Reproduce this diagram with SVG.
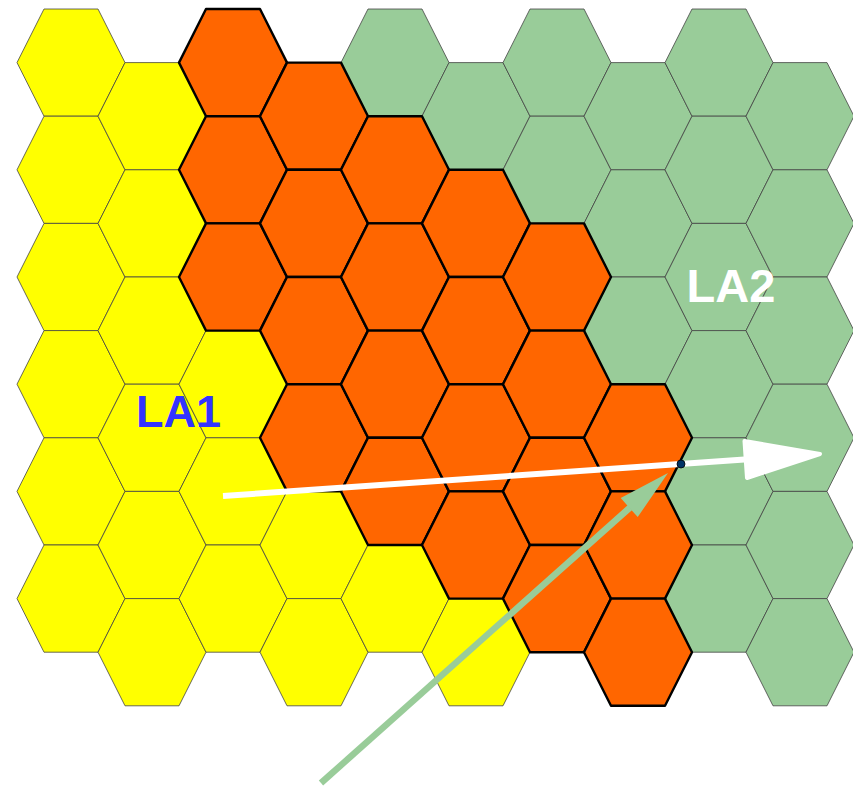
<svg xmlns="http://www.w3.org/2000/svg" xmlns:xlink="http://www.w3.org/1999/xlink" width="853" height="788" viewBox="0 0 853 788">
<style>
.y{fill:#FFFF00;stroke:#444;stroke-width:0.8}
.g{fill:#99CC99;stroke:#444;stroke-width:0.8}
.o{fill:#FF6600;stroke:#000;stroke-width:2.4;stroke-linejoin:round}
.lbl{font-family:"Liberation Sans",Arial,sans-serif;font-weight:bold;font-size:47px}
</style>
<defs>
<polygon id="hex" points="-54,0 -27,-53.6 27,-53.6 54,0 27,53.6 -27,53.6"/>
</defs>
<rect width="853" height="788" fill="#fff"/>
<g id="LA1-cells">
<use href="#hex" class="y" x="71" y="62.6"/><use href="#hex" class="y" x="71" y="169.8"/><use href="#hex" class="y" x="71" y="277"/><use href="#hex" class="y" x="71" y="384.2"/><use href="#hex" class="y" x="71" y="491.4"/><use href="#hex" class="y" x="71" y="598.6"/>
<use href="#hex" class="y" x="152" y="116.2"/><use href="#hex" class="y" x="152" y="223.4"/><use href="#hex" class="y" x="152" y="330.6"/><use href="#hex" class="y" x="152" y="437.8"/><use href="#hex" class="y" x="152" y="545"/><use href="#hex" class="y" x="152" y="652.2"/>
<use href="#hex" class="y" x="233" y="384.2"/><use href="#hex" class="y" x="233" y="491.4"/><use href="#hex" class="y" x="233" y="598.6"/>
<use href="#hex" class="y" x="314" y="545"/><use href="#hex" class="y" x="314" y="652.2"/>
<use href="#hex" class="y" x="395" y="598.6"/>
<use href="#hex" class="y" x="476" y="652.2"/>
</g>
<g id="LA2-cells">
<use href="#hex" class="g" x="395" y="62.6"/>
<use href="#hex" class="g" x="476" y="116.2"/>
<use href="#hex" class="g" x="557" y="62.6"/><use href="#hex" class="g" x="557" y="169.8"/>
<use href="#hex" class="g" x="638" y="116.2"/><use href="#hex" class="g" x="638" y="223.4"/><use href="#hex" class="g" x="638" y="330.6"/>
<use href="#hex" class="g" x="719" y="62.6"/><use href="#hex" class="g" x="719" y="169.8"/><use href="#hex" class="g" x="719" y="277"/><use href="#hex" class="g" x="719" y="384.2"/><use href="#hex" class="g" x="719" y="491.4"/><use href="#hex" class="g" x="719" y="598.6"/>
<use href="#hex" class="g" x="800" y="116.2"/><use href="#hex" class="g" x="800" y="223.4"/><use href="#hex" class="g" x="800" y="330.6"/><use href="#hex" class="g" x="800" y="437.8"/><use href="#hex" class="g" x="800" y="545"/><use href="#hex" class="g" x="800" y="652.2"/>
</g>
<g id="border-cells">
<use href="#hex" class="o" x="233" y="62.6"/><use href="#hex" class="o" x="233" y="169.8"/><use href="#hex" class="o" x="233" y="277"/>
<use href="#hex" class="o" x="314" y="116.2"/><use href="#hex" class="o" x="314" y="223.4"/><use href="#hex" class="o" x="314" y="330.6"/><use href="#hex" class="o" x="314" y="437.8"/>
<use href="#hex" class="o" x="395" y="169.8"/><use href="#hex" class="o" x="395" y="277"/><use href="#hex" class="o" x="395" y="384.2"/><use href="#hex" class="o" x="395" y="491.4"/>
<use href="#hex" class="o" x="476" y="223.4"/><use href="#hex" class="o" x="476" y="330.6"/><use href="#hex" class="o" x="476" y="437.8"/><use href="#hex" class="o" x="476" y="545"/>
<use href="#hex" class="o" x="557" y="277"/><use href="#hex" class="o" x="557" y="384.2"/><use href="#hex" class="o" x="557" y="491.4"/><use href="#hex" class="o" x="557" y="598.6"/>
<use href="#hex" class="o" x="638" y="437.8"/><use href="#hex" class="o" x="638" y="545"/><use href="#hex" class="o" x="638" y="652.2"/>
</g>
<g id="label-LA1"><text class="lbl" x="136" y="427" fill="#3333FF" style="font-size:45px">LA1</text></g>
<g id="label-LA2"><text class="lbl" x="686.5" y="302" fill="#FFFFFF">LA2</text></g>
<g id="connectors">
<line x1="223" y1="496" x2="748" y2="459.2" stroke="#fff" stroke-width="6"/>
<polygon points="820,454 747,478 744.5,441" fill="#fff" stroke="#fff" stroke-width="4" stroke-linejoin="round"/>
<line x1="321" y1="783" x2="630" y2="507.5" stroke="#99CC99" stroke-width="6.5"/>
<polygon points="668,473 637.7,517.1 620.7,498.1" fill="#99CC99"/>
<circle cx="681" cy="464" r="4" fill="#003366" stroke="#000" stroke-width="0.8"/>
</g>
</svg>
